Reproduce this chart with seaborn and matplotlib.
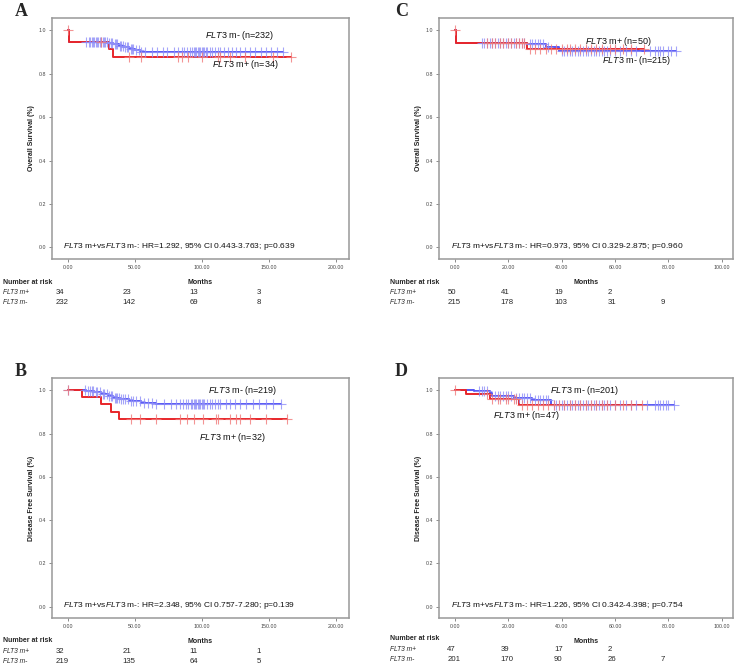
import matplotlib
matplotlib.use("Agg")
import matplotlib.pyplot as plt
import seaborn as sns
import pandas as pd
import numpy as np

# ---- data ----
# Panel A: overall survival, cohort 1
a_neg_time = [0, 1, 30, 34, 38, 42, 46, 50, 54]
a_neg_surv = [1.0, 0.946, 0.941, 0.935, 0.929, 0.922, 0.915, 0.908, 0.902]
a_neg_cens = [14, 16, 17, 18, 19, 20, 21, 22, 23, 24, 25, 26, 27, 28, 29, 31, 32, 33, 35, 36,
              37, 39, 40, 41, 43, 44, 45, 47, 48, 49, 51, 53, 55, 58, 63, 67, 71, 74, 79, 82,
              85, 87, 89, 91, 93, 94, 95, 96, 97, 98, 99, 100, 101, 102, 103, 104, 106, 108,
              110, 112, 114, 117, 120, 123, 126, 129, 132, 136, 140, 144, 148, 152, 156, 161]
a_pos_time = [0, 1, 31, 34]
a_pos_surv = [1.0, 0.946, 0.912, 0.878]
a_pos_cens = [0, 25, 46, 55, 82, 85, 90, 100, 112, 114, 121, 132, 153, 167]

# Panel B: disease free survival, cohort 1
b_neg_time = [0, 14, 20, 25, 30, 34, 39, 46, 55, 66]
b_neg_surv = [1.0, 0.995, 0.99, 0.982, 0.974, 0.966, 0.958, 0.95, 0.943, 0.935]
b_neg_cens = [0, 13, 15, 17, 18, 19, 21, 22, 24, 26, 27, 29, 31, 32, 33, 35, 36, 37, 38, 40,
              41, 43, 45, 47, 49, 51, 54, 57, 60, 63, 66, 72, 77, 81, 84, 86, 88, 90, 92, 93,
              94, 95, 96, 97, 98, 99, 100, 101, 102, 104, 106, 108, 110, 112, 114, 118, 121,
              125, 129, 133, 138, 143, 148, 153, 159]
b_pos_time = [0, 11, 25, 32, 38]
b_pos_surv = [1.0, 0.969, 0.935, 0.900, 0.866]
b_pos_cens = [0, 47, 54, 66, 84, 89, 94, 101, 111, 112, 121, 126, 129, 136, 148, 164]

# Panel C: overall survival, cohort 2
c_neg_time = [0, 0.5, 27, 34, 39]
c_neg_surv = [1.0, 0.94, 0.935, 0.925, 0.905]
c_neg_cens = [10, 11, 12, 13, 14, 15, 16, 17, 18, 19, 20, 21, 22, 23, 24, 25, 26, 28, 29, 30,
              31, 32, 33, 35, 40, 41, 42, 43, 44, 45, 46, 47, 48, 49, 50, 51, 52, 53, 54, 55,
              56, 57, 58, 60, 62, 64, 66, 68, 73, 75, 76, 77, 78, 80, 81, 83]
c_pos_time = [0, 0.5, 27]
c_pos_surv = [1.0, 0.943, 0.912]
c_pos_cens = [0, 12, 14, 15, 17, 18, 20, 21, 23, 24, 25, 26, 28, 30, 32, 34, 36, 38, 40, 42,
              43, 45, 47, 49, 51, 53, 55, 58, 60, 63, 66, 71]

# Panel D: disease free survival, cohort 2
d_neg_time = [0, 7, 13, 14, 22, 29, 36]
d_neg_surv = [1.0, 0.995, 0.989, 0.976, 0.965, 0.955, 0.933]
d_neg_cens = [9, 10, 11, 12, 15, 16, 17, 18, 19, 20, 21, 23, 24, 25, 26, 27, 28, 30, 31, 32,
              33, 34, 35, 37, 38, 39, 40, 41, 42, 43, 44, 45, 46, 47, 48, 49, 50, 51, 52, 53,
              54, 55, 56, 57, 58, 60, 62, 64, 66, 68, 72, 75, 76, 77, 78, 79, 80, 82]
d_pos_time = [0, 4, 13, 24]
d_pos_surv = [1.0, 0.981, 0.958, 0.932]
d_pos_cens = [0, 12, 14, 16, 17, 19, 20, 22, 23, 25, 27, 29, 31, 33, 35, 37, 39, 41, 43, 45,
              47, 49, 51, 53, 55, 57, 60, 63, 66, 70]

# numbers at risk
a_risk_times = [0, 50, 100, 150]
a_risk_pos = [34, 23, 13, 3]
a_risk_neg = [232, 142, 69, 8]
b_risk_times = [0, 50, 100, 150]
b_risk_pos = [32, 21, 11, 1]
b_risk_neg = [219, 135, 64, 5]
c_risk_times = [0, 20, 40, 60, 80]
c_risk_pos = [50, 41, 19, 2, None]
c_risk_neg = [215, 178, 103, 31, 9]
d_risk_times = [0, 20, 40, 60, 80]
d_risk_pos = [47, 39, 17, 2, None]
d_risk_neg = [201, 170, 90, 26, 7]

hr_texts = {
    "A": "HR=1.292, 95% CI 0.443-3.763; p=0.639",
    "B": "HR=2.348, 95% CI 0.757-7.280; p=0.139",
    "C": "HR=0.973, 95% CI 0.329-2.875; p=0.960",
    "D": "HR=1.226, 95% CI 0.342-4.398; p=0.754",
}

# ---- style ----
sns.set_style("white")
plt.rcParams["font.family"] = ["Liberation Sans", "DejaVu Sans"]
plt.rcParams["mathtext.fontset"] = "custom"
plt.rcParams["mathtext.rm"] = "Liberation Sans"
plt.rcParams["mathtext.it"] = "Liberation Sans:italic"

BLUE = "#5555f5"
BLUE_C = "#8f8ff8"
RED = "#e8262a"
RED_C = "#f07a7a"
FLT3 = r"$\mathit{FLT3}$"

fig = plt.figure(figsize=(7.38, 6.67), dpi=100)
W, H = 738.0, 667.0


def draw_curve(ax, times, surv, cens, line_c, cens_c):
    end = max(max(cens), max(times))
    df = pd.DataFrame({"t": list(times) + [end], "s": list(surv) + [surv[-1]]})
    sns.lineplot(data=df, x="t", y="s", ax=ax, color=line_c, lw=1.4,
                 drawstyle="steps-post", estimator=None, sort=False)
    idx = np.searchsorted(np.array(times), np.array(cens), side="right") - 1
    cdf = pd.DataFrame({"t": cens, "s": np.array(surv)[idx]})
    sns.scatterplot(data=cdf, x="t", y="s", ax=ax, marker="+", s=60,
                    color=cens_c, linewidth=0.8, alpha=0.8, zorder=3)


def panel(rect, letter, ylabel, xmax, xstep, curves, labels, hr_x,
          risk_times, risk_pos, risk_neg, risk_y, risk_off):
    ax = fig.add_axes(rect)
    for (t, s, c, lc, cc) in curves:
        draw_curve(ax, t, s, c, lc, cc)
    ax.set_xlim(xmax[0], xmax[1])
    ax.set_ylim(-0.053, 1.057)
    ax.set_xticks(np.arange(0, xmax[1] - 1, xstep))
    ax.set_xticklabels([f"{v:.2f}" for v in np.arange(0, xmax[1] - 1, xstep)])
    ax.set_yticks([0, 0.2, 0.4, 0.6, 0.8, 1.0])
    ax.set_yticklabels(["0.0", "0.2", "0.4", "0.6", "0.8", "1.0"])
    ax.tick_params(axis="both", labelsize=3.8, length=2.5, width=0.6,
                   colors="#777777", labelcolor="#444444", pad=1.5,
                   bottom=True, left=True)
    for sp in ax.spines.values():
        sp.set_color("#999999")
        sp.set_linewidth(1.1)
    ax.set_xlabel("Months", fontsize=5, fontweight="bold", color="#222222")
    ax.xaxis.set_label_coords(0.5, -0.083)
    ax.set_ylabel(ylabel, fontsize=5, fontweight="bold", color="#222222")
    ax.yaxis.set_label_coords(-0.058, 0.5)

    for (x, y, txt) in labels:
        ax.text(x, y, txt, fontsize=6.5, va="center", ha="left", color="#111111")
    ax.text(hr_x, 0.005, f"{FLT3} m+vs{FLT3} m-: {hr_texts[letter]}",
            fontsize=6.0, va="center", ha="left", color="#111111")

    # panel letter
    x0 = rect[0] * W
    top = (1 - rect[1] - rect[3]) * H
    lx = 15 if x0 < 100 else 395
    fig.text(lx / W, 1 - (top - 6) / H, letter, fontsize=13, fontweight="bold",
             family="Liberation Serif", va="center", ha="left")

    # number at risk table
    ny, y1, y2 = risk_y
    tx = 3 if x0 < 100 else 390
    fig.text(tx / W, 1 - ny / H, "Number at risk", fontsize=5, fontweight="bold",
             va="center", ha="left")
    fig.text(tx / W, 1 - y1 / H, "FLT3 m+", fontsize=4.8, style="italic",
             va="center", ha="left")
    fig.text(tx / W, 1 - y2 / H, "FLT3 m-", fontsize=4.8, style="italic",
             va="center", ha="left")
    for t, p, n in zip(risk_times, risk_pos, risk_neg):
        for val, yy in ((p, y1), (n, y2)):
            if val is None:
                continue
            ax.annotate(str(val), xy=(t, 1 - yy / H), xycoords=("data", "figure fraction"),
                        xytext=(risk_off, 0), textcoords="offset points",
                        fontsize=5.6, va="center", ha="left", annotation_clip=False)
    return ax


rect_a = [52 / W, 1 - 259 / H, 297 / W, 241 / H]
rect_c = [439 / W, 1 - 259 / H, 294 / W, 241 / H]
rect_b = [52 / W, 1 - 618 / H, 297 / W, 240 / H]
rect_d = [439 / W, 1 - 618 / H, 294 / W, 240 / H]

panel(rect_a, "A", "Overall Survival (%)", (-11.7, 210), 50,
      [(a_neg_time, a_neg_surv, a_neg_cens, BLUE, BLUE_C),
       (a_pos_time, a_pos_surv, a_pos_cens, RED, RED_C)],
      [(102.5, 0.977, f"{FLT3} m- (n=232)"), (107.8, 0.843, f"{FLT3} m+ (n=34)")],
      -3.5, a_risk_times, a_risk_pos, a_risk_neg, (282, 293, 303), -8.5)

panel(rect_b, "B", "Disease Free Survival (%)", (-11.7, 210), 50,
      [(b_neg_time, b_neg_surv, b_neg_cens, BLUE, BLUE_C),
       (b_pos_time, b_pos_surv, b_pos_cens, RED, RED_C)],
      [(104.9, 1.0, f"{FLT3} m- (n=219)"), (98.1, 0.782, f"{FLT3} m+ (n=32)")],
      -3.3, b_risk_times, b_risk_pos, b_risk_neg, (641, 651.5, 661.5), -8.5)

panel(rect_c, "C", "Overall Survival (%)", (-6, 104.2), 20,
      [(c_neg_time, c_neg_surv, c_neg_cens, BLUE, BLUE_C),
       (c_pos_time, c_pos_surv, c_pos_cens, RED, RED_C)],
      [(48.7, 0.95, f"{FLT3} m+ (n=50)"), (55.0, 0.861, f"{FLT3} m- (n=215)")],
      -1.6, c_risk_times, c_risk_pos, c_risk_neg, (282, 293, 303), -5.5)

panel(rect_d, "D", "Disease Free Survival (%)", (-6, 104.2), 20,
      [(d_neg_time, d_neg_surv, d_neg_cens, BLUE, BLUE_C),
       (d_pos_time, d_pos_surv, d_pos_cens, RED, RED_C)],
      [(35.6, 0.997, f"{FLT3} m- (n=201)"), (14.1, 0.882, f"{FLT3} m+ (n=47)")],
      -1.6, d_risk_times, d_risk_pos, d_risk_neg, (639, 649.5, 659.5), -5.5)

fig.savefig("out.png", dpi=100)
